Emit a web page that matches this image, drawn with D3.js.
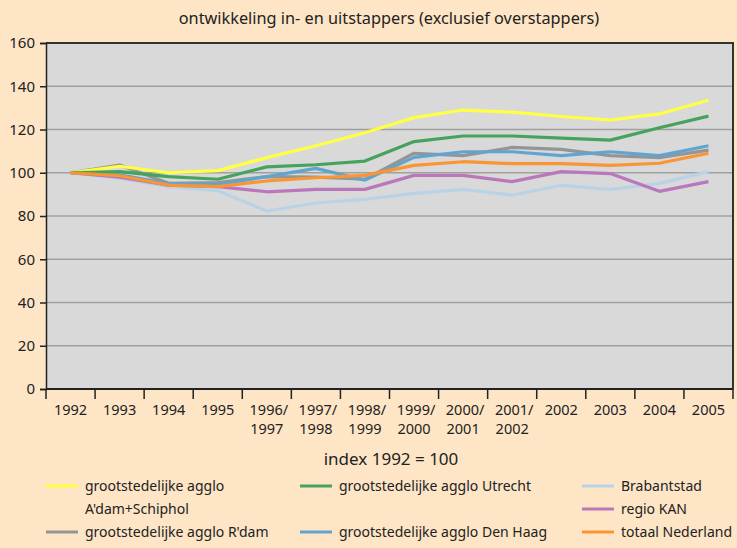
<!DOCTYPE html>
<meta charset="utf-8">
<style>
  body { margin: 0; background: #fde5c6; }
  svg text { font-family: "Noto Sans", "Open Sans", sans-serif; fill: #222; }
  .grid line { stroke: #a0a0a0; stroke-width: 1.5; }
  .series { fill: none; stroke-width: 3.2; stroke-linejoin: round; }
</style>
<body>
<script src="https://d3js.org/d3.v7.min.js"></script>
<script>
  // categories on the x axis (two-line labels split by \n)
  var years = ['1992', '1993', '1994', '1995', '1996/\n1997', '1997/\n1998', '1998/\n1999',
    '1999/\n2000', '2000/\n2001', '2001/\n2002', '2002', '2003', '2004', '2005']

  var yTicks = [0, 20, 40, 60, 80, 100, 120, 140, 160]

  // index values (1992 = 100)
  var adam = [100, 103, 100, 101, 107, 112.5, 118.5, 125.5, 129, 128, 126, 124.4, 127.2, 133.5]
  var utrecht = [100, 100.5, 98.2, 97, 102.7, 103.7, 105.4, 114.4, 117, 117, 116, 115.1, 120.8, 126.2]
  var brabant = [100, 97.5, 93.6, 91.7, 82.3, 86, 87.7, 90.5, 92.3, 89.6, 94.2, 92.3, 95.1, 100.5]
  var rdam = [100, 103.6, 95.1, 95.4, 98.2, 98, 97, 109, 107.9, 111.7, 110.8, 107.9, 107, 110.5]
  var denhaag = [100, 99, 95, 94.5, 98.2, 102, 96.6, 107.1, 109.7, 109.7, 107.9, 109.7, 107.9, 112.5]
  var kan = [100, 98, 94.3, 93.6, 91.2, 92.3, 92.3, 98.8, 98.8, 95.9, 100.5, 99.6, 91.4, 95.9]
  var totaal = [100, 98.6, 94.3, 93.6, 96.2, 97.7, 98.8, 103.4, 105.1, 104.2, 104.2, 103.4, 104.4, 109]

  var series = [
    { name: 'grootstedelijke agglo\nA\'dam+Schiphol', color: '#ffff44', values: adam },
    { name: 'grootstedelijke agglo Utrecht', color: '#46a35d', values: utrecht },
    { name: 'Brabantstad', color: '#b8d3e8', values: brabant },
    { name: 'grootstedelijke agglo R\'dam', color: '#959595', values: rdam },
    { name: 'grootstedelijke agglo Den Haag', color: '#60a5d0', values: denhaag },
    { name: 'regio KAN', color: '#bb77bb', values: kan },
    { name: 'totaal Nederland', color: '#fb9534', values: totaal }
  ]
  // draw order: back to front
  var drawOrder = [2, 5, 3, 4, 0, 1, 6]

  var width = 737, height = 548
  var margin = { top: 43, right: 4, bottom: 159, left: 46 }

  var svg = d3.select('body').append('svg')
    .attr('width', width)
    .attr('height', height)

  var x = d3.scaleBand()
    .domain(years)
    .range([margin.left, width - margin.right])

  var y = d3.scaleLinear()
    .domain([0, 160])
    .range([height - margin.bottom, margin.top])

  // plot background
  svg.append('rect')
    .attr('x', margin.left)
    .attr('y', margin.top)
    .attr('width', width - margin.left - margin.right)
    .attr('height', height - margin.top - margin.bottom)
    .attr('fill', '#d9d9d9')

  // gridlines
  svg.append('g')
    .attr('class', 'grid')
    .selectAll('line')
    .data(yTicks.slice(1, -1))
    .enter().append('line')
    .attr('x1', margin.left)
    .attr('x2', width - margin.right)
    .attr('y1', d => y(d))
    .attr('y2', d => y(d))

  // top and right frame
  svg.append('path')
    .attr('d', 'M' + margin.left + ',' + y(160) + 'H' + (width - margin.right) + 'V' + y(0))
    .attr('fill', 'none')
    .attr('stroke', '#333')
    .attr('stroke-width', 2)

  // lines
  var line = d3.line()
    .x((d, i) => x(years[i]) + x.bandwidth() / 2)
    .y(d => y(d))

  svg.append('g')
    .selectAll('path')
    .data(drawOrder.map(i => series[i]))
    .enter().append('path')
    .attr('class', 'series')
    .attr('stroke', d => d.color)
    .attr('d', d => line(d.values))

  // y axis
  var yAxis = svg.append('g')
    .attr('transform', 'translate(' + margin.left + ',0)')
    .call(d3.axisLeft(y).tickValues(yTicks).tickSize(6).tickPadding(5))
  yAxis.selectAll('text').style('font-size', '15px')
  yAxis.selectAll('line, path').attr('stroke', '#222').attr('stroke-width', 1.5)

  // x axis: ticks at band edges
  var edges = years.map(d => x(d)).concat([x(years[years.length - 1]) + x.bandwidth()])
  var xAxis = svg.append('g')
  xAxis.append('line')
    .attr('x1', margin.left).attr('x2', width - margin.right)
    .attr('y1', y(0)).attr('y2', y(0))
    .attr('stroke', '#222').attr('stroke-width', 2)
  xAxis.selectAll('.tick')
    .data(edges)
    .enter().append('line')
    .attr('x1', d => d).attr('x2', d => d)
    .attr('y1', y(0)).attr('y2', y(0) + 10)
    .attr('stroke', '#222').attr('stroke-width', 1.5)

  var xLabels = xAxis.selectAll('.xlabel')
    .data(years)
    .enter().append('text')
    .attr('text-anchor', 'middle')
    .style('font-size', '14.5px')
    .attr('transform', d => 'translate(' + (x(d) + x.bandwidth() / 2) + ',' + (y(0) + 26) + ')')
  xLabels.selectAll('tspan')
    .data(d => d.split('\n'))
    .enter().append('tspan')
    .attr('x', (d, i) => i === 0 && d.endsWith('/') ? 2 : 0)
    .attr('dy', (d, i) => i === 0 ? 0 : 19)
    .text(d => d)

  // title
  svg.append('text')
    .attr('x', 389)
    .attr('y', 24)
    .attr('text-anchor', 'middle')
    .style('font-size', '16.3px')
    .text('ontwikkeling in- en uitstappers (exclusief overstappers)')

  svg.append('text')
    .attr('x', 391)
    .attr('y', 465)
    .attr('text-anchor', 'middle')
    .style('font-size', '17px')
    .text('index 1992 = 100')

  // legend
  var legendPos = [
    [46, 486], [300, 486], [582, 486],
    [46, 532], [300, 532], [582, 509], [582, 532]
  ]
  var legend = svg.append('g')
    .selectAll('g')
    .data(series)
    .enter().append('g')
    .attr('transform', (d, i) => 'translate(' + legendPos[i][0] + ',' + legendPos[i][1] + ')')

  legend.append('line')
    .attr('x1', 0).attr('x2', 32)
    .attr('stroke', d => d.color)
    .attr('stroke-width', 3)

  var legendText = legend.append('text')
    .attr('x', 39)
    .attr('y', 5)
    .style('font-size', '14px')
  legendText.selectAll('tspan')
    .data(d => d.name.split('\n'))
    .enter().append('tspan')
    .attr('x', 39)
    .attr('dy', (d, i) => i === 0 ? 0 : 23)
    .text(d => d)
</script>
</body>
